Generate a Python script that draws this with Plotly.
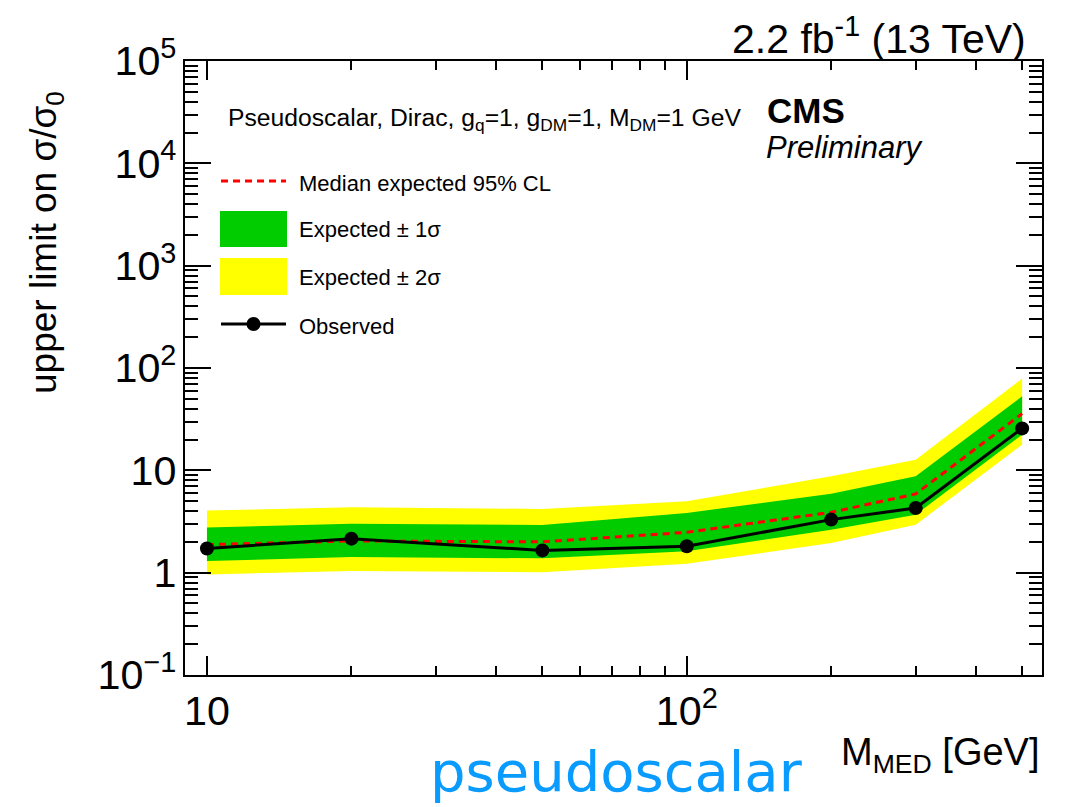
import numpy as np
import plotly.graph_objects as go

# Mediator mass points [GeV]
m_med = [10, 20, 50, 100, 200, 300, 500]

# 95% CL upper limits on sigma/sigma_0
observed = [1.72, 2.15, 1.65, 1.81, 3.30, 4.29, 25.7]
expected_median = [1.88, 2.04, 2.00, 2.48, 3.89, 5.88, 35.8]
expected_1sig_up = [2.77, 3.01, 2.93, 3.83, 5.92, 8.74, 52.9]
expected_1sig_dn = [1.30, 1.42, 1.38, 1.62, 2.63, 3.69, 22.3]
expected_2sig_up = [4.04, 4.35, 4.20, 4.98, 8.74, 12.7, 78.8]
expected_2sig_dn = [0.96, 1.04, 1.01, 1.22, 1.95, 2.94, 17.8]

W, H = 1065, 807
L, R, T, B = 185, 1042, 61, 675  # plot frame in pixels

FONT = "Liberation Sans, Arial, Helvetica, sans-serif"
GREEN = "#00cc00"
YELLOW = "#ffff00"


def px(x):
    return (x - L) / (R - L)


def py(y):
    return (B - y) / (B - T)


fig = go.Figure()

# +-2 sigma band
fig.add_trace(go.Scatter(
    x=m_med + m_med[::-1],
    y=expected_2sig_up + expected_2sig_dn[::-1],
    fill="toself", fillcolor=YELLOW, line=dict(width=0),
    mode="lines", hoverinfo="skip", showlegend=False))
# +-1 sigma band
fig.add_trace(go.Scatter(
    x=m_med + m_med[::-1],
    y=expected_1sig_up + expected_1sig_dn[::-1],
    fill="toself", fillcolor=GREEN, line=dict(width=0),
    mode="lines", hoverinfo="skip", showlegend=False))
# median expected
fig.add_trace(go.Scatter(
    x=m_med, y=expected_median, mode="lines",
    line=dict(color="#ff0000", width=3, dash="7px,5px"),
    showlegend=False))
# observed
fig.add_trace(go.Scatter(
    x=m_med, y=observed, mode="lines+markers",
    line=dict(color="black", width=3),
    marker=dict(color="black", size=14),
    showlegend=False))

axis_common = dict(
    type="log", showgrid=False, zeroline=False,
    showline=True, linecolor="black", linewidth=2, mirror="allticks",
    ticks="inside", tickcolor="black", tickwidth=2,
    dtick=1, exponentformat="power",
    tickfont=dict(family=FONT, size=33, color="black"),
)

fig.update_xaxes(
    **axis_common, range=[np.log10(9), np.log10(550)], ticklen=19,
    minor=dict(ticks="inside", ticklen=9, tickcolor="black", tickwidth=2,
               dtick="D1", showgrid=False),
)
fig.update_yaxes(
    **axis_common, range=[-1, 5], ticklen=26,
    minor=dict(ticks="inside", ticklen=13, tickcolor="black", tickwidth=2,
               dtick="D1", showgrid=False),
)

shapes = []
annotations = []

# key: median expected
shapes.append(dict(type="line", xref="paper", yref="paper",
                   x0=px(221), x1=px(286), y0=py(181), y1=py(181),
                   line=dict(color="#ff0000", width=3, dash="7px,5px")))
# key: +-1 sigma
shapes.append(dict(type="rect", xref="paper", yref="paper",
                   x0=px(220), x1=px(287), y0=py(211), y1=py(247),
                   fillcolor=GREEN, line=dict(width=0)))
# key: +-2 sigma
shapes.append(dict(type="rect", xref="paper", yref="paper",
                   x0=px(220), x1=px(287), y0=py(258), y1=py(295),
                   fillcolor=YELLOW, line=dict(width=0)))
# key: observed
shapes.append(dict(type="line", xref="paper", yref="paper",
                   x0=px(221), x1=px(286), y0=py(324), y1=py(324),
                   line=dict(color="black", width=3)))
shapes.append(dict(type="circle", xref="paper", yref="paper",
                   x0=px(246.5), x1=px(260.5), y0=py(317), y1=py(331),
                   fillcolor="black", line=dict(width=0)))

key_labels = [("Median expected 95% CL", 183), ("Expected ± 1σ", 229),
              ("Expected ± 2σ", 277), ("Observed", 326)]
for txt, yc in key_labels:
    annotations.append(dict(text=txt, xref="paper", yref="paper",
                            x=px(297), y=py(yc), xanchor="left", yanchor="middle",
                            showarrow=False,
                            font=dict(family=FONT, size=22, color="black")))

annotations.append(dict(
    text="Pseudoscalar, Dirac, g<sub>q</sub>=1, g<sub>DM</sub>=1, M<sub>DM</sub>=1 GeV",
    xref="paper", yref="paper", x=px(226), y=py(119), xanchor="left",
    yanchor="middle", showarrow=False,
    font=dict(family=FONT, size=24.7, color="black")))

annotations.append(dict(text="<b>CMS</b>", xref="paper", yref="paper",
                        x=px(765), y=py(110), xanchor="left", yanchor="middle",
                        showarrow=False,
                        font=dict(family=FONT, size=35, color="black")))
annotations.append(dict(text="<i>Preliminary</i>", xref="paper", yref="paper",
                        x=px(764), y=py(148), xanchor="left", yanchor="middle",
                        showarrow=False,
                        font=dict(family=FONT, size=31, color="black")))

annotations.append(dict(text="2.2 fb<sup>-1</sup> (13 TeV)", xref="paper", yref="paper",
                        x=px(1028), y=py(36), xanchor="right", yanchor="middle",
                        showarrow=False,
                        font=dict(family=FONT, size=41, color="black")))

annotations.append(dict(text="upper limit on σ/σ<sub>0</sub>", xref="paper", yref="paper",
                        x=px(46), y=py(243), xanchor="center", yanchor="middle",
                        textangle=-90, showarrow=False,
                        font=dict(family=FONT, size=37, color="black")))

annotations.append(dict(text="M<sub>MED</sub> [GeV]", xref="paper", yref="paper",
                        x=px(1041), y=py(755), xanchor="right", yanchor="middle",
                        showarrow=False,
                        font=dict(family=FONT, size=38, color="black")))

annotations.append(dict(text="pseudoscalar", xref="paper", yref="paper",
                        x=px(616), y=py(806), xanchor="center", yanchor="bottom",
                        showarrow=False,
                        font=dict(family="DejaVu Sans, sans-serif", size=56,
                                  color="#0a9bff")))

fig.update_layout(
    width=W, height=H,
    margin=dict(l=L, r=W - R, t=T, b=H - B, pad=0),
    paper_bgcolor="white", plot_bgcolor="white",
    showlegend=False,
    shapes=shapes, annotations=annotations,
)

fig.write_html("out.html")
